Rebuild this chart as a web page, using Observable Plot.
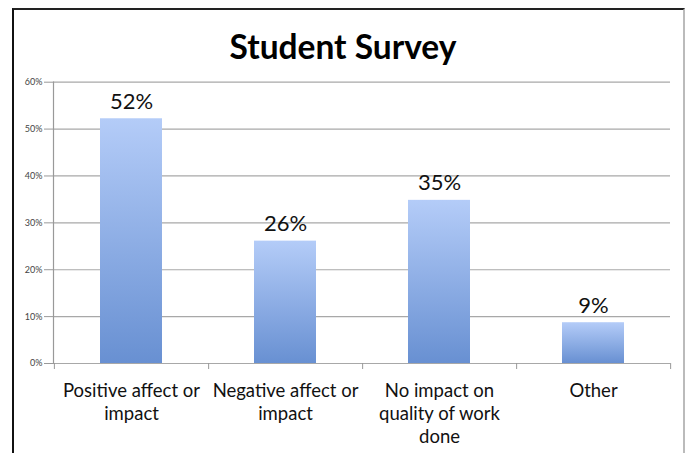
<!DOCTYPE html>
<html>
<head>
<meta charset="utf-8">
<script src="https://cdn.jsdelivr.net/npm/d3@7"></script>
<script src="https://cdn.jsdelivr.net/npm/@observablehq/plot@0.6"></script>
<style>
  html, body { margin: 0; padding: 0; background: #fff; }
  #wrap { position: relative; width: 686px; height: 453px; overflow: hidden; font-family: Lato, "Open Sans", sans-serif; }
  #frame { position: absolute; left: 12px; top: 8px; width: 669px; height: 460px;
           border-left: 2px solid #111; border-top: 2px solid #222; border-right: 2px solid #bbb; }
  #title { position: absolute; left: 0; top: 30px; width: 686px; height: 33px; text-align: center;
           font-weight: bold; font-size: 33.5px; line-height: 33.5px; color: #000; }
  #chart { position: absolute; left: 0; top: 60px; }
</style>
</head>
<body>
<div id="wrap">
  <div id="frame"></div>
  <div id="title">Student Survey</div>
  <div id="chart"></div>
</div>
<script>
const categories = [
  "Positive affect or\nimpact",
  "Negative affect or\nimpact",
  "No impact on\nquality of work\ndone",
  "Other"
];
const values = [0.522, 0.261, 0.348, 0.087];
const valueLabels = ["52%", "26%", "35%", "9%"];
const yTicks = [0, 0.1, 0.2, 0.3, 0.4, 0.5, 0.6];

const data = categories.map((c, i) => ({cat: c, value: values[i], label: valueLabels[i]}));

const W = 686, H = 393, mL = 53, mR = 16, mT = 21.7, mB = 90;
const half = (W - mL - mR) / categories.length / 2;

const chart = Plot.plot({
  width: W,
  height: H,
  marginLeft: mL,
  marginRight: mR,
  marginTop: mT,
  marginBottom: mB,
  style: {fontFamily: "Lato, 'Open Sans', sans-serif", background: "transparent", overflow: "visible"},
  x: {domain: categories, paddingInner: 0.6, paddingOuter: 0.3, label: null},
  y: {domain: [0, 0.6], label: null},
  marks: [
    Plot.ruleY(yTicks, {stroke: "#a8a8a8", strokeWidth: 1.2}),
    Plot.frame({anchor: "left", stroke: "#999", strokeWidth: 1.2}),
    Plot.axisY({ticks: yTicks, tickFormat: d3.format(".0%"), tickSize: 9, tickPadding: 2,
                fontSize: 9, fill: "#444", stroke: "#999", label: null}),
    Plot.barY(data, {x: "cat", y: "value", fill: "url(#barGrad)"}),
    Plot.text(data, {x: "cat", y: "value", text: "label", lineAnchor: "bottom", dy: -10,
                     fontSize: 22, fill: "#111"}),
    Plot.ruleX(categories.slice(0, 1), {x: d => d, y1: 0, y2: 0, dx: -half, insetBottom: -6, stroke: "#999"}),
    Plot.ruleX(categories, {x: d => d, y1: 0, y2: 0, dx: half, insetBottom: -6, stroke: "#999"}),
    Plot.axisX({tickSize: 0, tickPadding: 17, fontSize: 18.5, fill: "#111", lineHeight: 1.24, label: null})
  ]
});

const defs = document.createElementNS("http://www.w3.org/2000/svg", "defs");
defs.innerHTML = '<linearGradient id="barGrad" x1="0" y1="0" x2="0" y2="1">' +
  '<stop offset="0" stop-color="#b4ccf8"/><stop offset="1" stop-color="#6890d2"/></linearGradient>';
chart.insertBefore(defs, chart.firstChild);
document.getElementById("chart").appendChild(chart);
</script>
</body>
</html>
